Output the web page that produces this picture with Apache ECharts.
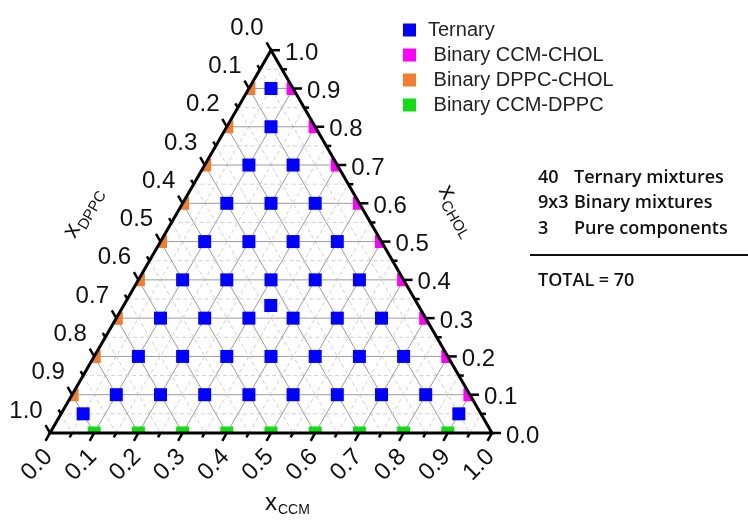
<!DOCTYPE html>
<html><head><meta charset="utf-8">
<script src="https://cdn.jsdelivr.net/npm/echarts@6/dist/echarts.min.js"></script>
<style>html,body{margin:0;padding:0;background:#fff}#c{width:748px;height:523px}</style>
</head><body><div id="c"></div>
<script>
// ---- data (ternary fractions) ----
const ternaryCCM  = [0.05, 0.1, 0.1,0.2, 0.1,0.2,0.3, 0.1,0.2,0.3,0.4, 0.1,0.2,0.3,0.4,0.5,
                     0.1,0.2,0.3,0.4,0.5,0.6, 0.1,0.2,0.3,0.4,0.5,0.6,0.7, 0.1,0.2,0.3,0.4,0.5,0.6,0.7,0.8,
                     0.05, 0.9, 0.333];
const ternaryCHOL = [0.9, 0.8, 0.7,0.7, 0.6,0.6,0.6, 0.5,0.5,0.5,0.5, 0.4,0.4,0.4,0.4,0.4,
                     0.3,0.3,0.3,0.3,0.3,0.3, 0.2,0.2,0.2,0.2,0.2,0.2,0.2, 0.1,0.1,0.1,0.1,0.1,0.1,0.1,0.1,
                     0.05, 0.05, 0.333];
const ccmCholCHOL  = [0.1,0.2,0.3,0.4,0.5,0.6,0.7,0.8,0.9];   // DPPC = 0
const dppcCholCHOL = [0.1,0.2,0.3,0.4,0.5,0.6,0.7,0.8,0.9];   // CCM = 0
const ccmDppcCCM   = [0.1,0.2,0.3,0.4,0.5,0.6,0.7,0.8,0.9];   // CHOL = 0
const tickLabels = ['0.0','0.1','0.2','0.3','0.4','0.5','0.6','0.7','0.8','0.9','1.0'];
const seriesNames = ['Ternary',' Binary CCM-CHOL',' Binary DPPC-CHOL',' Binary CCM-DPPC'];
const summaryCounts = ['40','9x3','3'];
const summaryTexts = ['Ternary mixtures','Binary mixtures','Pure components'];
const totalText = 'TOTAL = 70';

const H = Math.sqrt(3) / 2;
function tern(ccm, chol) { return [ccm + chol / 2, chol * H]; }

const FONT = '"Liberation Sans", Arial, sans-serif';
const SFONT = '"Open Sans", Lato, sans-serif';

function triPts(api) {
  return [api.coord(tern(0, 0)), api.coord(tern(1, 0)), api.coord(tern(0, 1))];
}

function gridRender(params, api) {
  const P = (a, c) => api.coord(tern(a, c));
  const ch = [];
  for (let k = 1; k < 20; k++) {
    const v = k / 20, major = k % 2 === 0;
    const st = major ? { stroke: '#9c9c9c', lineWidth: 1 } : { stroke: '#d0d0d0', lineWidth: 1, lineDash: [4, 3] };
    const segs = [
      [P(0, v), P(1 - v, v)],      // CHOL const
      [P(v, 0), P(v, 1 - v)],      // CCM const
      [P(0, 1 - v), P(1 - v, 0)]   // DPPC const
    ];
    segs.forEach(s => ch.push({ type: 'line', shape: { x1: s[0][0], y1: s[0][1], x2: s[1][0], y2: s[1][1] }, style: st }));
  }
  return { type: 'group', children: ch };
}

function edgeMarkerRender(params, api) {
  const p = api.coord([api.value(0), api.value(1)]);
  const s = 13;
  return {
    type: 'rect',
    shape: { x: p[0] - s / 2, y: p[1] - s / 2, width: s, height: s },
    style: { fill: api.visual('color') },
    clipPath: { type: 'polygon', shape: { points: triPts(api) } }
  };
}

function txt(x, y, text, extra) {
  return Object.assign({ type: 'text', x: x, y: y,
    style: Object.assign({ text: text, font: '24px ' + FONT, fill: '#111',
      align: 'center', verticalAlign: 'middle', textAlign: 'center', textVerticalAlign: 'middle' }, (extra && extra.style) || {}) },
    extra && extra.el || {});
}

function subTitle(x, y, rot, main, sub, subSize) {
  return {
    type: 'group', x: x, y: y, rotation: rot,
    children: [
      { type: 'text', x: 0, y: -8, style: { text: main, font: '24px ' + FONT, fill: '#111', align: 'left', verticalAlign: 'middle', textAlign: 'left', textVerticalAlign: 'middle' } },
      { type: 'text', x: 13, y: -0.5, style: { text: sub, font: subSize + 'px ' + FONT, fill: '#111', align: 'left', verticalAlign: 'middle', textAlign: 'left', textVerticalAlign: 'middle' } }
    ]
  };
}

function frameRender(params, api) {
  const P = (a, c) => api.coord(tern(a, c));
  const ch = [];
  const tk = { stroke: '#000', lineWidth: 2.5 };
  for (let k = 0; k <= 20; k++) {
    const v = k / 20, major = k % 2 === 0, len = major ? 9 : 5;
    // bottom (CCM)
    let p = P(v, 0);
    ch.push({ type: 'line', shape: { x1: p[0], y1: p[1], x2: p[0] - 0.5 * len, y2: p[1] + H * len }, style: tk });
    if (major) ch.push(txt(p[0] - 13, p[1] + 32, tickLabels[k / 2], { el: { rotation: Math.PI / 4 } }));
    // right (CHOL)
    p = P(1 - v, v);
    ch.push({ type: 'line', shape: { x1: p[0], y1: p[1], x2: p[0] + len, y2: p[1] }, style: tk });
    if (major) ch.push(txt(p[0] + 14, p[1] + 3, tickLabels[k / 2], { style: { align: 'left', textAlign: 'left' } }));
    // left (DPPC)
    p = P(0, 1 - v);
    ch.push({ type: 'line', shape: { x1: p[0], y1: p[1], x2: p[0] - 0.5 * len, y2: p[1] - H * len }, style: tk });
    if (major) ch.push(txt(p[0] - 24, p[1] - 22, tickLabels[k / 2]));
  }
  ch.push({ type: 'polygon', shape: { points: triPts(api) }, style: { fill: 'none', stroke: '#000', lineWidth: 3, lineJoin: 'miter' } });
  // axis titles
  const b = P(0.5, 0);
  ch.push(subTitle(b[0] - 6, b[1] + 78, 0, 'x', 'CCM', 14));
  ch.push(subTitle(76, 240, Math.PI / 3, 'x', 'DPPC', 15));
  ch.push(subTitle(437, 191, -Math.PI / 3, 'x', 'CHOL', 15));
  return { type: 'group', children: ch };
}

const colors = ['#0000ff', '#ff00ff', '#ef7f2e', '#12dd12'];
const sumStyle = (t) => ({ text: t, font: '600 18px ' + SFONT, fill: '#111', textVerticalAlign: 'middle', verticalAlign: 'middle' });

const option = {
  animation: false,
  backgroundColor: '#fff',
  grid: { left: 50, top: 50.2, width: 442, height: 442 * H, containLabel: false },
  xAxis: { type: 'value', min: 0, max: 1, show: false },
  yAxis: { type: 'value', min: 0, max: H, show: false },
  legend: {
    orient: 'vertical', left: 398, top: 15, itemWidth: 13, itemHeight: 13, itemGap: 5, icon: 'rect',
    textStyle: { fontFamily: FONT, fontSize: 20, color: '#222', lineHeight: 20, padding: [0, 0, 0, 7] },
    data: seriesNames.map(n => ({ name: n, icon: 'rect' }))
  },
  graphic: {
    elements: [
      ...summaryCounts.map((t, i) => ({ type: 'text', x: 538, y: 177.5 + i * 25.5, style: sumStyle(t) })),
      ...summaryTexts.map((t, i) => ({ type: 'text', x: 574, y: 177.5 + i * 25.5, style: sumStyle(t) })),
      { type: 'line', shape: { x1: 530, y1: 255, x2: 748, y2: 255 }, style: { stroke: '#111', lineWidth: 2 } },
      { type: 'text', x: 538, y: 281, style: sumStyle(totalText) }
    ]
  },
  series: [
    { type: 'custom', name: 'gridlines', silent: true, clip: false, z: 1, data: [[0, 0]], renderItem: gridRender },
    { type: 'scatter', name: seriesNames[0], symbol: 'rect', symbolSize: 13, z: 3,
      itemStyle: { color: colors[0], opacity: 1 },
      data: ternaryCCM.map((a, i) => tern(a, ternaryCHOL[i])) },
    { type: 'custom', name: seriesNames[1], z: 3, clip: false, itemStyle: { color: colors[1] },
      data: ccmCholCHOL.map(c => tern(1 - c, c)), renderItem: edgeMarkerRender },
    { type: 'custom', name: seriesNames[2], z: 3, clip: false, itemStyle: { color: colors[2] },
      data: dppcCholCHOL.map(c => tern(0, c)), renderItem: edgeMarkerRender },
    { type: 'custom', name: seriesNames[3], z: 3, clip: false, itemStyle: { color: colors[3] },
      data: ccmDppcCCM.map(a => tern(a, 0)), renderItem: edgeMarkerRender },
    { type: 'custom', name: 'frame', silent: true, clip: false, z: 5, data: [[0, 0]], renderItem: frameRender }
  ]
};
const chart = echarts.init(document.getElementById('c'), null, { renderer: 'canvas' });
chart.setOption(option);
</script>
</body></html>
